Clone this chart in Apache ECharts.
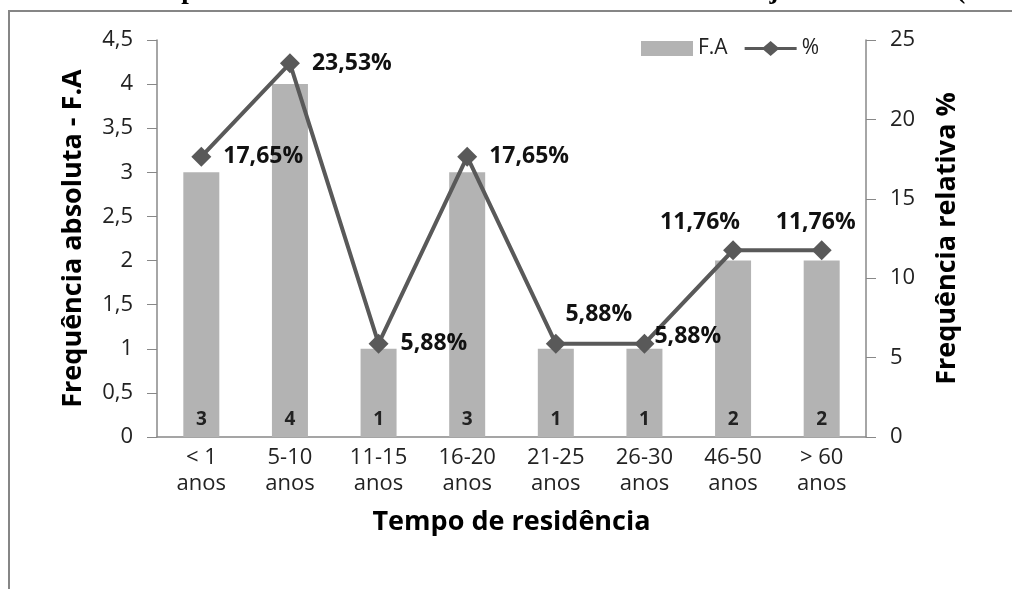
<!DOCTYPE html>
<html><head><meta charset="utf-8">
<script src="https://cdn.jsdelivr.net/npm/echarts@6/dist/echarts.min.js"></script>
<style>html,body{margin:0;padding:0;background:#fff}#c{width:1012px;height:589px}</style>
</head><body><div id="c"></div>
<script>
const categories = ['< 1\nanos','5-10\nanos','11-15\nanos','16-20\nanos','21-25\nanos','26-30\nanos','46-50\nanos','> 60\nanos'];
const faValues = [3,4,1,3,1,1,2,2];
const pctValues = [17.65,23.53,5.88,17.65,5.88,5.88,11.76,11.76];
const leftTicks = {min:0,max:4.5,interval:0.5};
const rightTicks = {min:0,max:25,interval:5};

const F = '"Open Sans", Lato, sans-serif';
const labelPos = [
  {position:'right',distance:12},
  {position:'right',distance:12},
  {position:'right',distance:12},
  {position:'right',distance:12},
  {position:'top',distance:8,offset:[43,0]},
  {position:'right',distance:0,offset:[0,-7]},
  {position:'top',distance:6,offset:[-33,0]},
  {position:'top',distance:6,offset:[-6,0]}
];
const chart = echarts.init(document.getElementById('c'));
chart.setOption({
  animation:false,
  textStyle:{fontFamily:F},
  graphic:[
    {type:'text',left:0,top:-22,style:{text:'Gráfico 4 - Tempo de moradia dos entrevistados na Comunidade Ajudante – MEG (2017)',font:'bold 27px "Liberation Serif", serif',fill:'#000'}},
    {type:'polyline',shape:{points:[[9,589],[9,11],[1012,11]]},style:{stroke:'#868686',lineWidth:2,fill:null}}
  ],
  legend:{
    left:636, top:33, itemGap:17, itemWidth:52, itemHeight:15,
    textStyle:{fontFamily:F,fontSize:21,color:'#222'},
    data:[{name:'F.A',icon:'rect'},
          {name:'%',icon:'path://M0,6 L19,6 L26,0 L33,6 L52,6 L52,9 L33,9 L26,15 L19,9 L0,9 Z',itemStyle:{color:'#595959'}}]
  },
  grid:{left:157,right:146,top:40,bottom:152},
  xAxis:{
    type:'category', data:categories,
    axisLine:{lineStyle:{color:'#888',width:1.5}},
    axisTick:{show:false},
    axisLabel:{fontFamily:F,fontSize:22,color:'#222',lineHeight:26,margin:8},
    name:'Tempo de residência', nameLocation:'middle', nameGap:72,
    nameTextStyle:{fontFamily:F,fontSize:27,fontWeight:'bold',color:'#000'}
  },
  yAxis:[
    {type:'value',min:leftTicks.min,max:leftTicks.max,interval:leftTicks.interval,
     axisLine:{show:true,lineStyle:{color:'#888',width:1.5}},
     axisTick:{show:true,length:10,lineStyle:{color:'#888'}},
     splitLine:{show:false},
     axisLabel:{fontFamily:F,fontSize:22,color:'#222',margin:24,formatter:v=>String(v).replace('.',',')},
     name:'Frequência absoluta - F.A',nameLocation:'middle',nameGap:70,
     nameTextStyle:{fontFamily:F,fontSize:27,fontWeight:'bold',color:'#000'}},
    {type:'value',min:rightTicks.min,max:rightTicks.max,interval:rightTicks.interval,position:'right',
     axisLine:{show:true,lineStyle:{color:'#888',width:1.5}},
     axisTick:{show:true,length:10,lineStyle:{color:'#888'}},
     splitLine:{show:false},
     axisLabel:{fontFamily:F,fontSize:22,color:'#222',margin:24},
     name:'Frequência relativa %',nameLocation:'middle',nameGap:68,nameRotate:90,
     nameTextStyle:{fontFamily:F,fontSize:27,fontWeight:'bold',color:'#000'}}
  ],
  series:[
    {name:'F.A',type:'bar',yAxisIndex:0,data:faValues,barWidth:36,
     itemStyle:{color:'#b3b3b3'},
     label:{show:true,position:'insideBottom',distance:8,fontFamily:F,fontSize:19,fontWeight:'bold',color:'#222'}},
    {name:'%',type:'line',yAxisIndex:1,
     data:pctValues.map((v,i)=>({value:v,label:labelPos[i]})),
     symbol:'diamond',symbolSize:20,
     lineStyle:{color:'#595959',width:4},itemStyle:{color:'#595959'},
     label:{show:true,fontFamily:F,fontSize:23,fontWeight:'bold',color:'#111',
       formatter:p=>p.value.toFixed(2).replace('.',',')+'%'}}
  ]
});
</script></body></html>
